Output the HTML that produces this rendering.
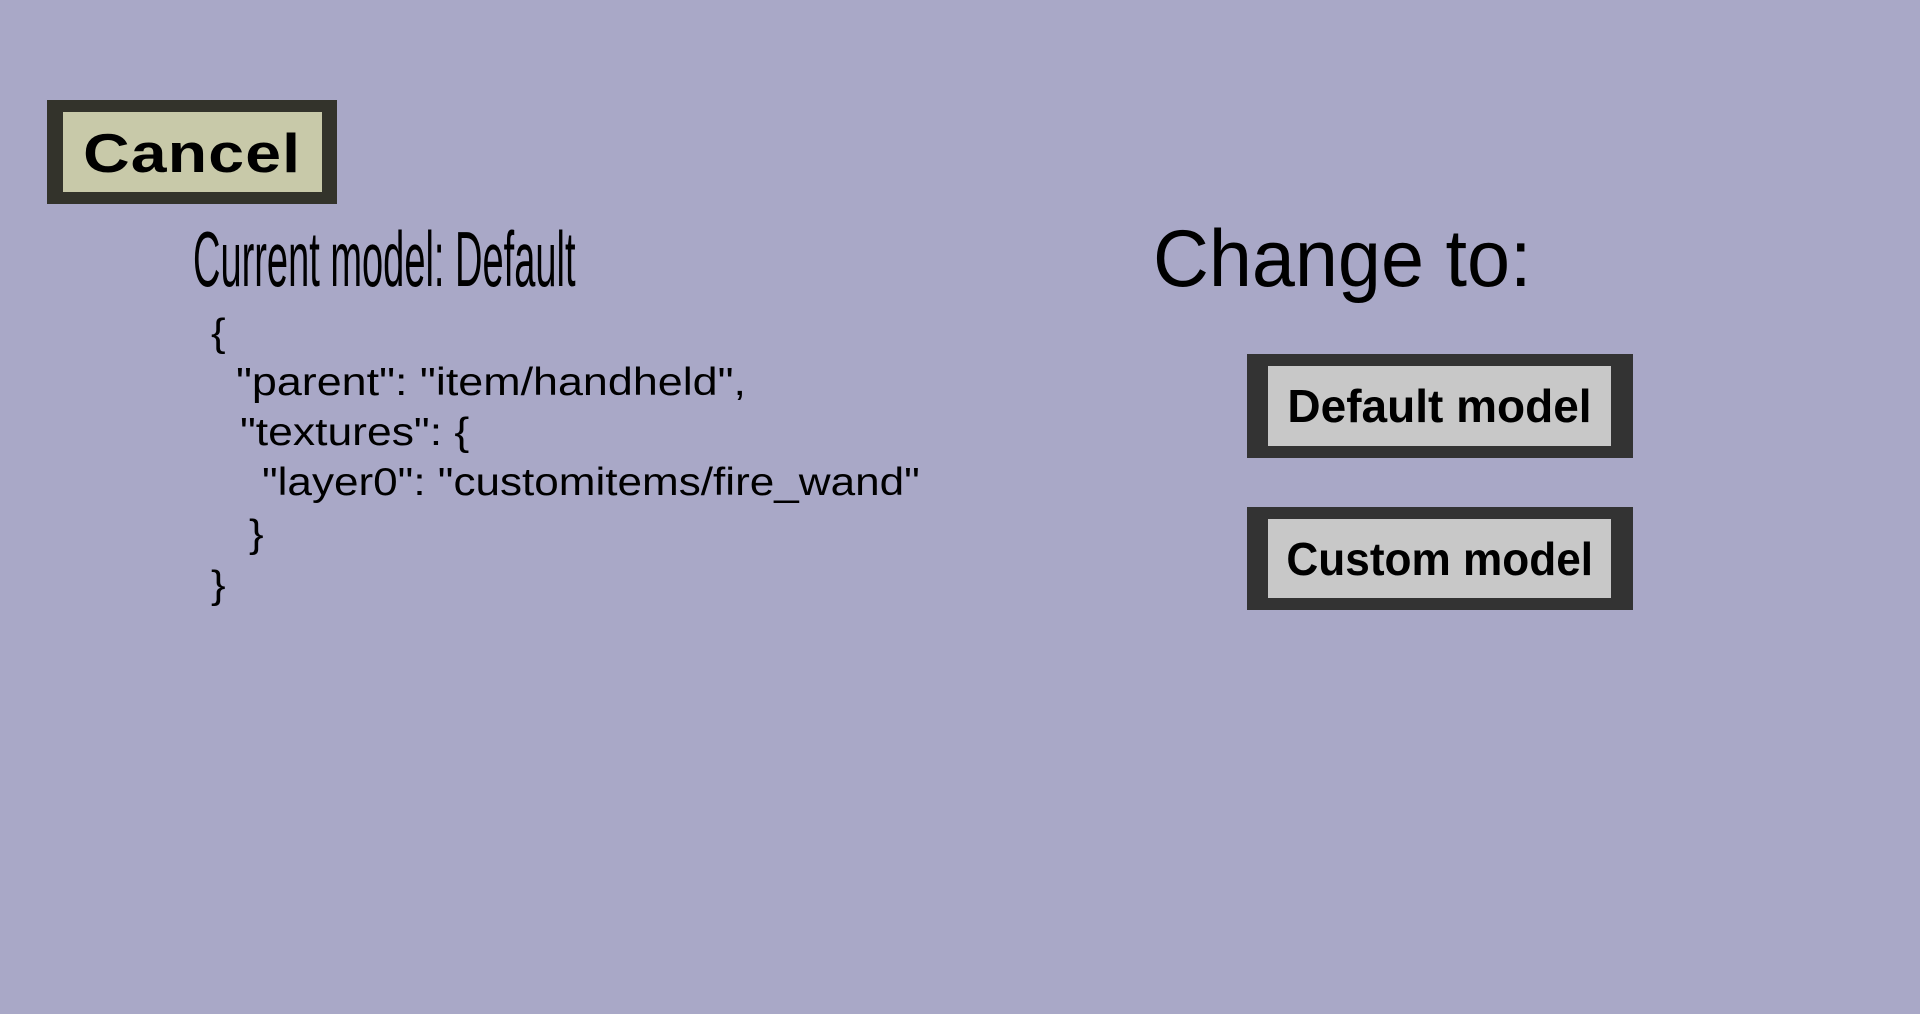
<!DOCTYPE html>
<html><head><meta charset="utf-8"><style>
html,body{margin:0;padding:0;width:1920px;height:1014px;overflow:hidden;background:#a9a8c7;font-family:"Liberation Sans",sans-serif;color:#000}
.a{position:absolute;white-space:pre;line-height:1}
.btn{position:absolute;box-sizing:border-box;display:flex;align-items:center;justify-content:center;font-weight:bold}
</style></head><body>
<div class="btn" style="left:47px;top:100px;width:290px;height:104px;background:#c8c9a9;border:12px solid #33332b;border-left-width:16px;border-right-width:15px;font-size:55px;padding-top:2px"><span style="display:inline-block;transform:scaleX(1.17);letter-spacing:1px">Cancel</span></div>
<div class="a" style="left:193px;top:220px;font-size:78px;transform:scaleX(0.4875);transform-origin:0 0">Current model: Default</div>
<div class="a" style="left:211px;top:314px;font-size:39px;transform:scaleX(1.12);transform-origin:0 0">{</div>
<div class="a" style="left:236px;top:363px;font-size:39px;transform:scaleX(1.15);transform-origin:0 0">"parent": "item/handheld",</div>
<div class="a" style="left:240px;top:413px;font-size:39px;transform:scaleX(1.14);transform-origin:0 0">"textures": {</div>
<div class="a" style="left:262px;top:463px;font-size:39px;transform:scaleX(1.13);transform-origin:0 0">"layer0": "customitems/fire_wand"</div>
<div class="a" style="left:249px;top:515px;font-size:39px;transform:scaleX(1.12);transform-origin:0 0">}</div>
<div class="a" style="left:211px;top:566px;font-size:39px;transform:scaleX(1.12);transform-origin:0 0">}</div>
<div class="a" style="left:1153px;top:219px;font-size:81px;transform:scaleX(0.955);transform-origin:0 0">Change to:</div>
<div class="btn" style="left:1247px;top:354px;width:386px;height:104px;background:#c8c8c8;border:12px solid #333;border-left-width:21px;border-right-width:22px;font-size:46px">Default model</div>
<div class="btn" style="left:1247px;top:507px;width:386px;height:103px;background:#c8c8c8;border:12px solid #333;border-left-width:21px;border-right-width:22px;font-size:46px"><span style="display:inline-block;transform:scaleX(0.96)">Custom model</span></div>
</body></html>
